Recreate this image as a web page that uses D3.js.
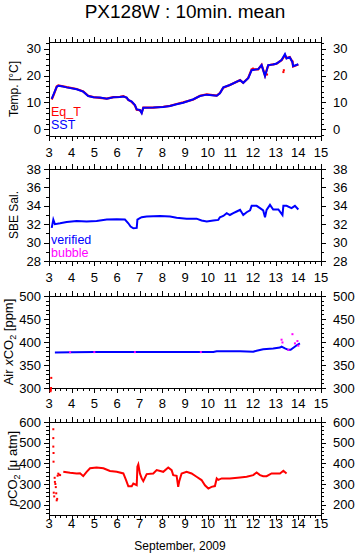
<!DOCTYPE html>
<html><head><meta charset="utf-8">
<script src="https://cdn.jsdelivr.net/npm/d3@7"></script>
<style>
body{margin:0;background:#fff;}
text{font-family:"Liberation Sans",Arial,Helvetica,sans-serif;fill:#000;}
</style></head>
<body>
<svg id="chart" width="355" height="558"></svg>
<script>
// ---------- data ----------
const xTicks = [3,4,5,6,7,8,9,10,11,12,13,14,15];

// Panel 1: temperature
const tDays = [3.12,3.22,3.34,3.41,3.56,3.78,4.22,4.51,4.73,4.96,5.25,5.55,5.84,6.13,6.28,6.43,6.50,6.65,6.79,6.87,7.01,7.09,7.16,7.60,8.04,8.34,8.63,8.92,9.37,9.66,9.96,10.40,10.54,10.69,10.98,11.43,11.57,11.79,11.94,12.23,12.38,12.53,12.67,12.89,13.04,13.26,13.41,13.48,13.62,13.74,13.77,14.0];
const sst   = [11.3,13.4,15.8,16.2,16.0,15.6,14.9,14.0,12.4,11.9,11.8,11.4,11.9,12.0,12.2,11.8,10.9,10.3,9.0,7.4,7.2,6.0,8.0,8.1,8.3,8.7,9.3,9.9,11.2,12.4,12.9,12.5,13.4,15.6,16.5,18.3,17.3,19.0,22.0,22.4,23.9,19.8,23.9,24.1,24.5,25.8,28.0,26.4,26.8,25.0,23.5,24.2];
const eqT   = [11.1,13.1,15.9,16.3,16.1,15.7,15.0,14.1,12.5,12.0,11.7,11.4,12.0,12.1,12.3,11.7,10.9,10.2,8.9,7.3,7.1,6.2,8.1,8.1,8.4,8.7,9.4,10.0,11.1,12.5,13.0,12.5,13.5,15.5,16.5,18.3,17.3,19.1,22.3,22.3,24.0,20.0,23.8,24.2,24.4,25.7,27.6,26.5,26.9,25.1,23.4,24.1];
const eqDots  = [13.34,13.36,12.0,12.62,13.74];
const eqDotsV = [21.3,22.0,22.6,20.4,25.3];
const tYTicks = [0,10,20,30];

// Panel 2: salinity
const sDays = [3.12,3.19,3.26,3.49,3.78,4.22,4.66,5.10,5.55,5.99,6.35,6.50,6.60,6.72,6.87,6.90,7.01,7.09,7.31,7.60,7.90,8.34,8.63,9.07,9.51,9.73,9.96,10.25,10.47,10.54,10.69,10.84,10.98,11.13,11.28,11.43,11.57,11.72,11.87,11.94,12.16,12.31,12.45,12.53,12.60,12.75,12.89,13.12,13.30,13.34,13.48,13.70,13.85,14.0];
const sal   = [31.6,32.5,32.0,32.1,32.25,32.36,32.3,32.36,32.5,32.55,32.5,32.1,31.75,31.56,31.6,32.5,32.65,32.76,32.84,32.87,32.9,32.84,32.7,32.6,32.6,32.4,32.3,32.4,32.47,32.76,32.9,33.2,33.0,33.2,33.38,33.56,33.0,33.3,33.5,34.0,34.0,33.75,33.5,32.76,33.56,34.1,33.6,33.6,33.0,34.0,34.0,33.75,34.0,33.6];
const sYTicks = [28,30,32,34,36,38];

// Panel 3: air xCO2
const aDays = [3.26,4.0,5.0,6.0,7.0,8.0,9.0,10.25,10.4,11.43,12.01,12.16,12.45,12.89,13.19,13.26,13.41,13.56,13.66,13.93,14.07];
const air   = [377,377.5,378,378,378,378,378,378.4,380,380,379,381,384,386,388,390,386,383,383,393,397];
const bubDays = [3.93,5.0,6.79,9.7,13.26,13.30,13.56,13.74,13.85,13.96,14.0];
const bub     = [378,378,378,378,405,399,383,417,397,402,392];
const airRedDays = [3.10,3.09,3.08,3.07];
const airRed     = [322,300,296,293];
const aYTicks = [300,350,400,450,500];

// Panel 4: pCO2
const pDays = [3.63,3.93,4.22,4.37,4.51,4.66,4.81,5.10,5.40,5.69,5.99,6.28,6.40,6.50,6.65,6.72,6.87,6.90,6.94,7.01,7.09,7.16,7.31,7.60,7.75,8.04,8.26,8.41,8.48,8.63,8.70,8.75,8.85,9.07,9.29,9.51,9.73,9.88,10.03,10.17,10.32,10.40,10.47,10.62,10.98,11.43,11.72,12.01,12.16,12.31,12.45,12.60,12.82,13.04,13.19,13.34,13.48];
const pco2  = [359,354,351,352,338,359,376,380,376,363,359,351,319,289,289,302,294,384,395,351,327,314,348,351,367,359,380,367,343,340,286,315,351,359,351,335,319,294,278,286,290,327,320,327,327,332,335,343,356,343,338,338,351,351,351,364,351];
const spikeDays = [3.19,3.19,3.19,3.20,3.20,3.21,3.23,3.25,3.26,3.28,3.30,3.32,3.34,3.36,3.38,3.41,3.45,3.49];
const spike     = [565,522,481,450,408,258,240,330,310,300,285,255,221,228,340,350,345,343];
const pYTicks = [200,300,400,500,600];

// ---------- drawing ----------
const svg = d3.select("#chart");
const L = 49, R = 321;
const x = d3.scaleLinear().domain([3,15]).range([L,R]);

svg.append("text").attr("x",185).attr("y",17.5).attr("text-anchor","middle")
  .style("font-size","19px").text("PX128W : 10min. mean");

function panel(o){
  const y = d3.scaleLinear().domain(o.domain).range([o.bottom,o.top]);
  const g = svg.append("g");
  g.append("rect").attr("x",L).attr("y",o.top).attr("width",R-L).attr("height",o.bottom-o.top)
    .attr("fill","none").attr("stroke","#000").attr("stroke-width",1).attr("shape-rendering","crispEdges");
  const xMinor = d3.range(3,15.001,0.25);
  const axB = d3.axisBottom(x).tickValues(xMinor).tickSize(3).tickFormat("");
  const axT = d3.axisTop(x).tickValues(xMinor).tickSize(3).tickFormat("");
  const axBM = d3.axisBottom(x).tickValues(xTicks).tickSize(5).tickFormat("");
  const axTM = d3.axisTop(x).tickValues(xTicks).tickSize(5).tickFormat("");
  [[axB,o.bottom],[axBM,o.bottom],[axT,o.top],[axTM,o.top]].forEach(([a,yy])=>{
    const ag = g.append("g").attr("transform",`translate(0,${yy})`).call(a);
    ag.select(".domain").remove();
    ag.selectAll("line").attr("shape-rendering","crispEdges");
  });
  g.selectAll(null).data(xTicks).enter().append("text")
    .attr("x",d=>x(d)).attr("y",o.bottom+o.xlab).attr("text-anchor","middle")
    .style("font-size","13px").text(d=>d);
  const yMinor = d3.range(Math.ceil(o.domain[0]/o.minor)*o.minor, o.domain[1]+0.001, o.minor);
  const ayL = d3.axisLeft(y).tickValues(yMinor).tickSize(3).tickFormat("");
  const ayLM = d3.axisLeft(y).tickValues(o.yTicks).tickSize(5).tickFormat("");
  const ayR = d3.axisRight(y).tickValues(yMinor).tickSize(3).tickFormat("");
  const ayRM = d3.axisRight(y).tickValues(o.yTicks).tickSize(5).tickFormat("");
  [[ayL,L],[ayLM,L],[ayR,R],[ayRM,R]].forEach(([a,xx])=>{
    const ag = g.append("g").attr("transform",`translate(${xx},0)`).call(a);
    ag.select(".domain").remove();
    ag.selectAll("line").attr("shape-rendering","crispEdges");
  });
  g.selectAll(null).data(o.yTicks).enter().append("text")
    .attr("x",41).attr("y",d=>y(d)).attr("dy","0.36em").attr("text-anchor","end")
    .style("font-size","13px").text(d=>d);
  g.selectAll(null).data(o.yTicks).enter().append("text")
    .attr("x",333).attr("y",d=>y(d)).attr("dy","0.36em").attr("text-anchor","start")
    .style("font-size","13px").text(d=>d);
  const t = g.append("text").attr("transform",`translate(${o.titleX},${(o.top+o.bottom)/2}) rotate(-90)`)
    .attr("text-anchor","middle").style("font-size",o.titleSize||"12px");
  o.title(t);
  return {g,y};
}

function line(g, xs, ys, y, color, w){
  const pts = xs.map((d,i)=>[d,ys[i]]);
  g.append("path").datum(pts)
    .attr("d", d3.line().x(d=>x(d[0])).y(d=>y(d[1])))
    .attr("fill","none").attr("stroke",color).attr("stroke-width",w||2);
}
function dots(g, xs, ys, y, color){
  g.selectAll(null).data(xs.map((d,i)=>[d,ys[i]])).enter().append("rect")
    .attr("x",d=>x(d[0])-1).attr("y",d=>y(d[1])-1).attr("width",2).attr("height",2).attr("fill",color);
}

// Panel 1
{
  const {g,y} = panel({top:42,bottom:136,domain:[-2.5,32.5],yTicks:tYTicks,minor:2,xlab:21,titleX:18,
    title:t=>t.text("Temp. [°C]")});
  line(g,tDays,eqT,y,"#ff0000",2.2);
  dots(g,eqDots,eqDotsV,y,"#ff0000");
  line(g,tDays,sst,y,"#0000ff",2);
  g.append("text").attr("x",51).attr("y",116).style("font-size","12.5px").style("fill","#ff0000").text("Eq_T");
  g.append("text").attr("x",51).attr("y",129).style("font-size","12.5px").style("fill","#0000ff").text("SST");
}
// Panel 2
{
  const {g,y} = panel({top:169,bottom:261,domain:[28,38],yTicks:sYTicks,minor:1,xlab:21,titleX:18,
    title:t=>t.text("SBE Sal.")});
  line(g,sDays,sal,y,"#0000ff",2);
  g.append("text").attr("x",51).attr("y",244).style("font-size","12.5px").style("fill","#0000ff").text("verified");
  g.append("text").attr("x",51).attr("y",257).style("font-size","12.5px").style("fill","#ff00ff").text("bubble");
}
// Panel 3
{
  const {g,y} = panel({top:296,bottom:388,domain:[300,500],yTicks:aYTicks,minor:10,xlab:20,titleX:13,titleSize:"13px",
    title:t=>{t.append("tspan").text("Air ");t.append("tspan").style("font-style","italic").text("x");
      t.append("tspan").text("CO");t.append("tspan").attr("dy","3").style("font-size","9px").text("2");
      t.append("tspan").attr("dy","-3").text(" [ppm]");}});
  line(g,aDays,air,y,"#0000ff",2);
  dots(g,bubDays,bub,y,"#ff00ff");
  dots(g,airRedDays,airRed,y,"#ff0000");
}
// Panel 4
{
  const {g,y} = panel({top:422,bottom:515,domain:[150,600],yTicks:pYTicks,minor:20,xlab:13,titleX:17,titleSize:"13px",
    title:t=>{t.append("tspan").style("font-style","italic").text("p");
      t.append("tspan").text("CO");t.append("tspan").attr("dy","3").style("font-size","9px").text("2");
      t.append("tspan").attr("dy","-3").text(" [μ atm]");}});
  line(g,pDays,pco2,y,"#ff0000",2);
  dots(g,spikeDays,spike,y,"#ff0000");
  svg.append("text").attr("x",180).attr("y",550).attr("text-anchor","middle").style("font-size","12px").text("September, 2009");
}
</script>
</body></html>
